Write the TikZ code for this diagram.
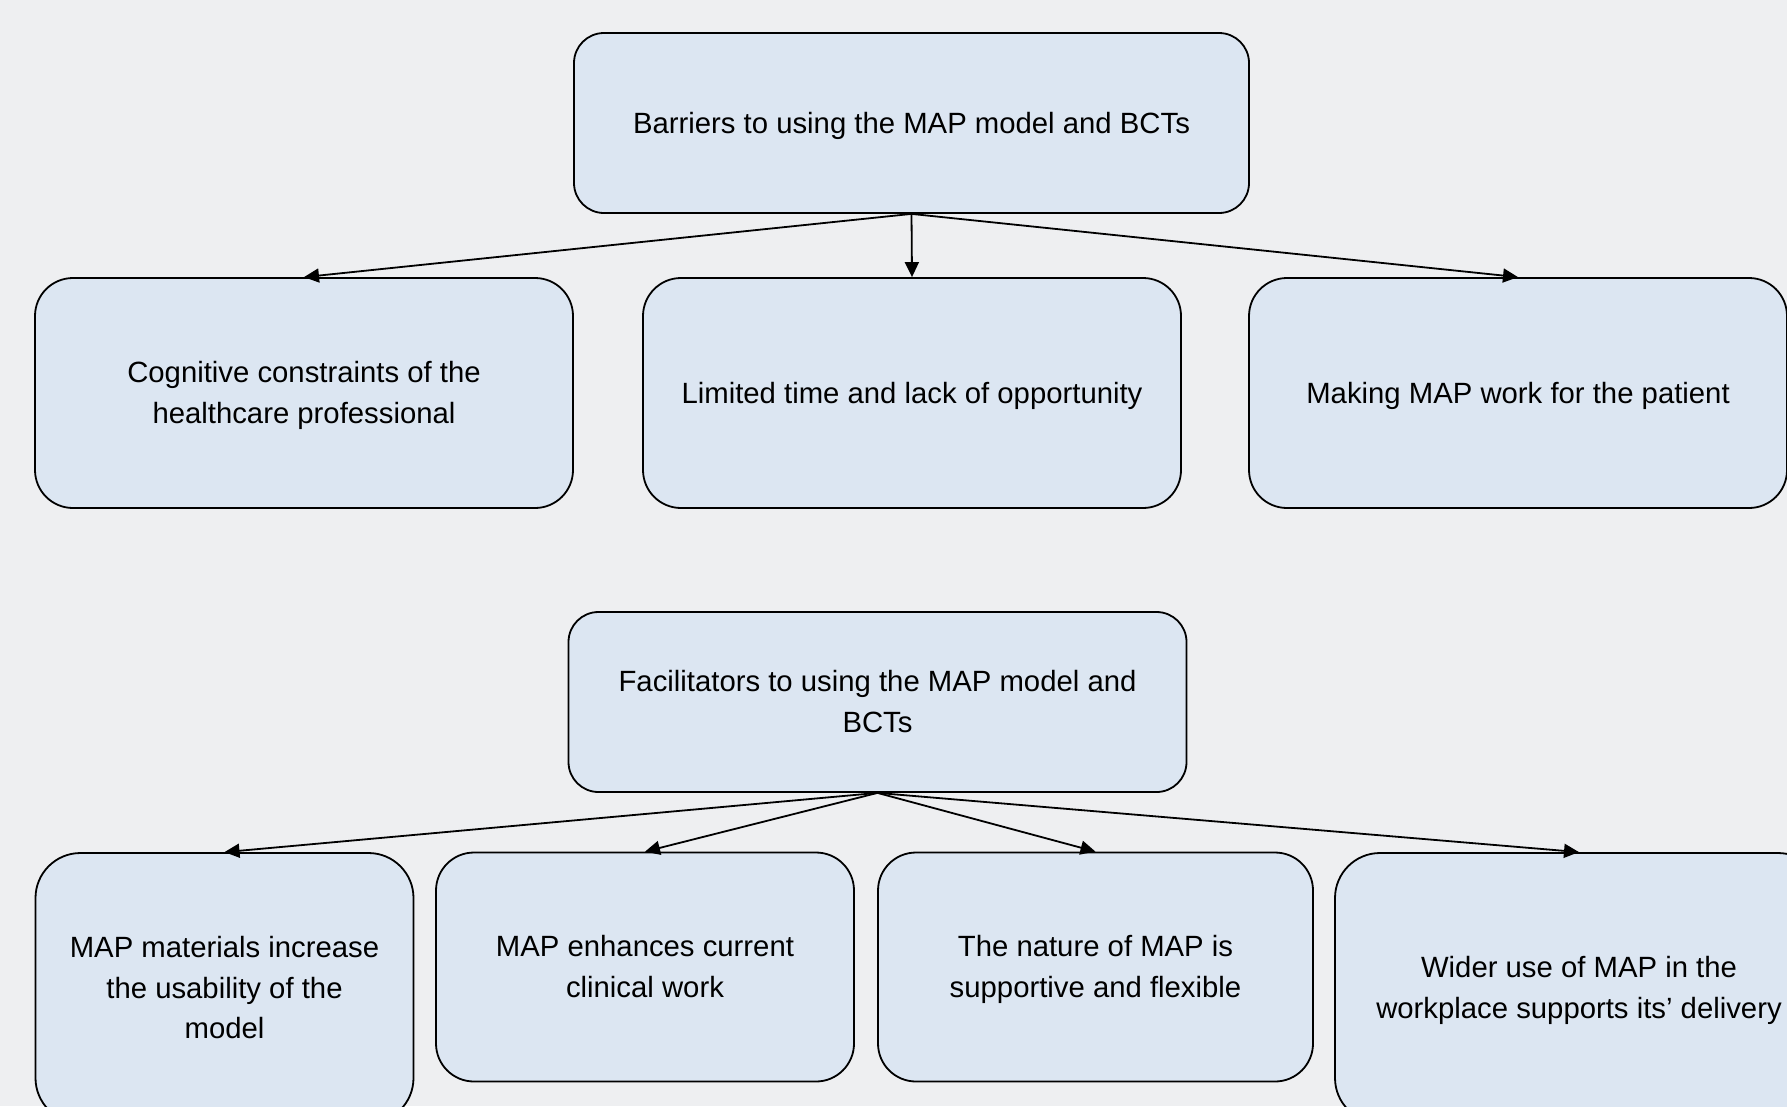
\documentclass[tikz,border=0pt]{standalone}
\usepackage{fontspec}
\setmainfont{Liberation Sans}
\usetikzlibrary{arrows.meta}
\definecolor{bgcol}{RGB}{238,239,241}
\definecolor{boxfill}{RGB}{220,230,242}
\newcommand\lnstrut{\rule[-6.2pt]{0pt}{32.7pt}}
\begin{document}
\begin{tikzpicture}[x=1pt,y=-1pt,
  box/.style={draw=black, fill=boxfill, line width=1.8pt, align=center,
    inner sep=0pt, rectangle, font=\fontsize{29.3}{40.5}\selectfont},
  conn/.style={line width=1.8pt, -{Triangle[length=15pt,width=14pt]}}]
\useasboundingbox (0,0) rectangle (1787,1106);
\fill[bgcol] (0,0) rectangle (1787,1106);
\clip (0,0) rectangle (1787,1106);
% barriers
\node[box, minimum width=675pt, minimum height=180pt, rounded corners=30pt] (bar) at (911.5,123) {\lnstrut Barriers to using the MAP model and BCTs};
\node[box, minimum width=538pt, minimum height=230pt, rounded corners=38pt] (ba) at (304,393) {\lnstrut Cognitive constraints of the\\\lnstrut healthcare professional};
\node[box, minimum width=538pt, minimum height=230pt, rounded corners=38pt] (bb) at (912,393) {\lnstrut Limited time and lack of opportunity};
\node[box, minimum width=538pt, minimum height=230pt, rounded corners=38pt] (bc) at (1518,393) {\lnstrut Making MAP work for the patient};
% facilitators
\node[box, minimum width=618pt, minimum height=180pt, rounded corners=30pt] (fac) at (877.5,702) {\lnstrut Facilitators to using the MAP model and\\\lnstrut BCTs};
\node[box, minimum width=378pt, minimum height=270pt, rounded corners=45pt] (fd) at (224.5,988) {\lnstrut MAP materials increase\\\lnstrut the usability of the\\\lnstrut model};
\node[box, minimum width=418pt, minimum height=229pt, rounded corners=38pt] (fe) at (645,967) {\lnstrut MAP enhances current\\\lnstrut clinical work};
\node[box, minimum width=435pt, minimum height=229pt, rounded corners=38pt] (ff) at (1095.5,967) {\lnstrut The nature of MAP is\\\lnstrut supportive and flexible};
\node[box, minimum width=488pt, minimum height=270pt, rounded corners=45pt] (fg) at (1579,988) {\lnstrut Wider use of MAP in the\\\lnstrut workplace supports its’ delivery};
% connectors
\draw[conn] (bar.south) -- (ba.north);
\draw[conn] (bar.south) -- (bb.north);
\draw[conn] (bar.south) -- (bc.north);
\draw[conn] (fac.south) -- (fd.north);
\draw[conn] (fac.south) -- (fe.north);
\draw[conn] (fac.south) -- (ff.north);
\draw[conn] (fac.south) -- (fg.north);
\end{tikzpicture}
\end{document}
